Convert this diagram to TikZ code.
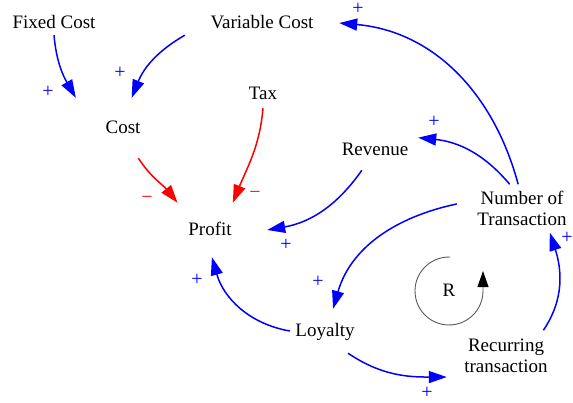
\documentclass[tikz,border=0pt]{standalone}
\usepackage{fontspec}
\setmainfont{Liberation Serif}
\usetikzlibrary{positioning, arrows.meta}

\begin{document}
\begin{tikzpicture}[x=1pt, y=1pt,
        factor/.style={font=\fontsize{19}{21}\selectfont, text height=14pt, text depth=4pt, inner sep=0pt},
        factor2/.style={font=\fontsize{19}{21}\selectfont, align=center, inner sep=0pt},
        link/.style={blue, line width=1.5pt, -{Triangle[length=18pt, width=12pt]}},
        neg/.style={red, line width=1.5pt, -{Triangle[length=18pt, width=12pt]}},
        plus/.style={blue, font=\fontsize{20}{20}\selectfont, inner sep=0pt},
        minus/.style={red, font=\fontsize{20}{20}\selectfont, inner sep=0pt}]
        \useasboundingbox (0,0) rectangle (573,-402);

        % --- Variables ---
        \node[factor, minimum height=24pt] (fixed) at (54,-23) {Fixed Cost};
        \node[factor, minimum width=154pt, minimum height=24pt] (variable) at (262,-23) {Variable Cost};
        \node[factor, minimum width=94pt, minimum height=60pt] (cost) at (123,-128) {Cost};
        \node[factor, minimum height=28pt] (tax) at (263,-94) {Tax};
        \node[factor, minimum width=114pt, minimum height=54pt] (profit) at (210,-230) {Profit};
        \node[factor, minimum width=86pt, minimum height=40pt] (revenue) at (375,-150) {Revenue};
        \node[factor2, minimum width=130pt, minimum height=48pt] (trans) at (522,-208.5) {Number of\\Transaction};
        \node[factor, minimum width=70pt, minimum height=44pt] (loyalty) at (325,-331) {Loyalty};
        \node[factor2, minimum width=118pt, minimum height=50pt] (recur) at (506,-355.5) {Recurring\\transaction};
        \node[factor] (rloop) at (449,-291) {R};

        % --- Cost side ---
        \draw[link] (fixed.south) to[out=-85, in=120] (cost.north west);
        \draw[link] (variable.south west) to[out=210, in=68] (cost.74);
        \draw[neg] (cost.-63) to[out=-57, in=129] (profit.140);
        \draw[neg] (tax.south) to[out=-95, in=68] (profit.50);

        % --- Transaction side ---
        \draw[link] (revenue.-123) to[out=235, in=10] (profit.east);
        \draw[link] (loyalty.west) to[out=170, in=-74] (profit.-86);
        \draw[link] (trans.176) to[out=192, in=74] (loyalty.70);
        \draw[link] (loyalty.-44) to[out=-34, in=180] (recur.200);
        \draw[link] (recur.34) to[out=56, in=-72] (trans.-41);
        \draw[link] (trans.117) to[out=130, in=-6] (revenue.16);
        \draw[link] (trans.99) to[out=105, in=-5] (variable.east);

        % Polarity signs
        \foreach \x/\y [count=\i] in {48/-92, 120/-73, 286/-245, 197/-280, 318/-282, 427/-393, 567/-238, 434/-122, 358/-9}
            \node[plus] (plus\i) at (\x,\y) {+};
        \node[minus] (minus1) at (147,-200) {−};
        \node[minus] (minus2) at (255,-195) {−};

        % Reinforcing loop marker
        \draw[black!65, line width=0.9pt, -{Triangle[length=16pt, width=11pt, color=black]}]
            ([shift={(88:34)}]rloop.center) arc[start angle=88, end angle=360, radius=34] -- ++(0,20);
    \end{tikzpicture}
\end{document}
